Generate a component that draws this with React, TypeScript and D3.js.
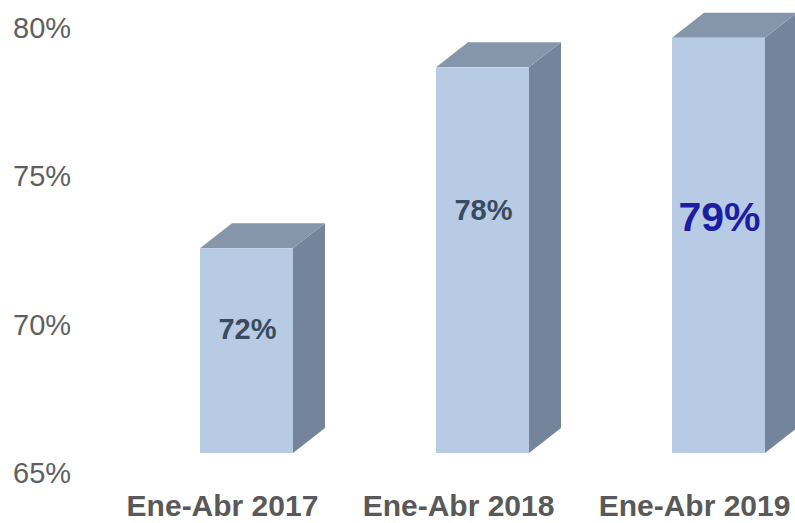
import React, { useEffect, useRef } from "react";
import * as d3 from "d3";

const categories = ["Ene-Abr 2017", "Ene-Abr 2018", "Ene-Abr 2019"];
const values = [71.9, 78.0, 79.0];
const valueLabels = ["72%", "78%", "79%"];
const yTicks = [65, 70, 75, 80];

const W = 795;
const H = 523;
const DEPTH_X = 32;
const DEPTH_Y = -25;

const App: React.FC = () => {
  const svgRef = useRef<SVGSVGElement | null>(null);

  useEffect(() => {
    document.body.style.margin = "0";
    if (!svgRef.current) return;
    const svg = d3.select(svgRef.current);
    svg.selectAll("*").remove();

    const x = d3.scaleBand<string>()
      .domain(categories)
      .range([200, 765])
      .paddingInner(0.606)
      .paddingOuter(0);

    const y = d3.scaleLinear().domain([65, 80]).range([453, 8]);

    // y axis labels (sit a bit below the front plane values)
    svg.append("g")
      .selectAll("text")
      .data(yTicks)
      .enter()
      .append("text")
      .attr("x", 13)
      .attr("y", (d) => y(d) + 30)
      .text((d) => `${d}%`)
      .style("font-family", "'Liberation Sans', Arial, sans-serif")
      .style("font-size", "29px")
      .attr("fill", "#5f5f5f");

    const bars = svg.append("g")
      .selectAll("g")
      .data(values)
      .enter()
      .append("g");

    const x0 = (i: number) => x(categories[i])!;
    const x1 = (i: number) => x(categories[i])! + x.bandwidth();
    const yb = y(65);

    // side face
    bars.append("polygon")
      .attr("points", (d, i) => [
        [x1(i), y(d)],
        [x1(i) + DEPTH_X, y(d) + DEPTH_Y],
        [x1(i) + DEPTH_X, yb + DEPTH_Y],
        [x1(i), yb],
      ].map((p) => p.join(",")).join(" "))
      .attr("fill", "#74849a");

    // top face
    bars.append("polygon")
      .attr("points", (d, i) => [
        [x0(i), y(d)],
        [x0(i) + DEPTH_X, y(d) + DEPTH_Y],
        [x1(i) + DEPTH_X, y(d) + DEPTH_Y],
        [x1(i), y(d)],
      ].map((p) => p.join(",")).join(" "))
      .attr("fill", "#8596ab");

    // front face
    bars.append("rect")
      .attr("x", (d, i) => x0(i))
      .attr("y", (d) => y(d))
      .attr("width", x.bandwidth())
      .attr("height", (d) => yb - y(d))
      .attr("fill", "#b7cbe4");

    // value labels
    const labelDy = [91, 153, 193];
    const labelSize = [29, 29, 41];
    const labelColor = ["#3a4a5f", "#3a4a5f", "#1d1da3"];
    bars.append("text")
      .attr("x", (d, i) => x0(i) + x.bandwidth() / 2 + 1)
      .attr("y", (d, i) => y(d) + labelDy[i])
      .attr("text-anchor", "middle")
      .text((d, i) => valueLabels[i])
      .style("font-family", "'Liberation Sans', Arial, sans-serif")
      .style("font-weight", "bold")
      .style("font-size", (d, i) => `${labelSize[i]}px`)
      .attr("fill", (d, i) => labelColor[i]);

    // category labels
    svg.append("g")
      .selectAll("text")
      .data(categories)
      .enter()
      .append("text")
      .attr("x", (d) => x(d)! + x.bandwidth() / 2 - 24)
      .attr("y", 516)
      .attr("text-anchor", "middle")
      .text((d) => d)
      .style("font-family", "'Liberation Sans', Arial, sans-serif")
      .style("font-weight", "bold")
      .style("font-size", "30px")
      .attr("fill", "#595959");
  }, []);

  return <svg ref={svgRef} width={W} height={H} style={{ display: "block", background: "#fff" }}></svg>;
};

export default App;
